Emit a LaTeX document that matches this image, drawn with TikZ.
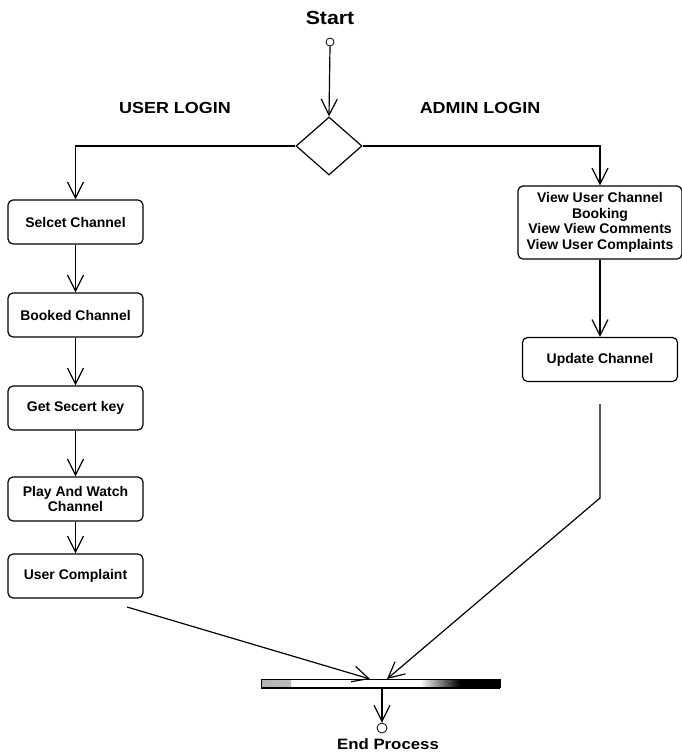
\documentclass[tikz,border=0pt]{standalone}
\usepackage{fontspec}
\setmainfont{Liberation Sans}
\usetikzlibrary{shapes.geometric,arrows.meta}
\newcommand\widetxt[1]{\scalebox{1.12}[1]{#1}}
\begin{document}
\begin{tikzpicture}[x=1pt,y=-1pt,
 act/.style={draw,line width=1.2pt,rounded corners=5pt,minimum height=44pt,align=center,
   font=\fontsize{14}{15.5}\selectfont\bfseries,inner sep=2pt},
 flow/.style={line width=1.2pt,-{Straight Barb[length=16pt,width=16pt,line width=1.2pt]}},
 lbl/.style={font=\fontsize{16}{18}\selectfont\bfseries,inner sep=0pt},
 endpt/.style={circle,draw,line width=0.8pt,inner sep=0pt,fill=white}]
\useasboundingbox (0,0) rectangle (681,753);

% start
\node[font=\fontsize{19}{21}\selectfont\bfseries,inner sep=0pt] (startlbl) at (330,18) {\widetxt{Start}};
\node[endpt,minimum size=8pt] (startc) at (330,42) {};
\node[draw,diamond,line width=1.2pt,minimum width=66pt,minimum height=58pt,inner sep=0pt] (dia) at (329,146) {};

\node[lbl] (userlbl) at (175,108) {\widetxt{USER LOGIN}};
\node[lbl] (adminlbl) at (480,108) {\widetxt{ADMIN LOGIN}};

% user branch
\node[act,minimum width=135pt] (sel)  at (75.5,222) {Selcet Channel};
\node[act,minimum width=135pt] (book) at (75.5,315) {Booked Channel};
\node[act,minimum width=135pt] (key)  at (75.5,408) {Get Secert key};
\node[act,minimum width=135pt] (play) at (75.5,499) {Play And Watch\\Channel};
\node[act,minimum width=135pt] (comp) at (75.5,576) {User Complaint};

% admin branch
\node[act,minimum width=164pt,minimum height=73pt,inner sep=1pt] (view) at (600,222.5)
  {View User Channel\\Booking\\View View Comments\\View User Complaints};
\node[act,minimum width=155pt] (upd) at (600,359.5) {Update Channel};

% join bar
\node[draw,line width=0.8pt,minimum width=239pt,minimum height=8pt,inner sep=0pt,fill=white,
  path picture={
     \shade[left color=gray!60,right color=white]
       (path picture bounding box.north west) rectangle ([xshift=30pt]path picture bounding box.south west);
     \shade[left color=white,right color=black]
       ([xshift=-80pt]path picture bounding box.north east) rectangle ([xshift=-40pt]path picture bounding box.south east);
     \fill[black]
       ([xshift=-40pt]path picture bounding box.north east) rectangle (path picture bounding box.south east);}]
  (bar) at (380.5,683) {};
\draw[line width=1.8pt] ([yshift=-0.5pt]bar.south west) -- ([yshift=-0.5pt]bar.south east);

\node[endpt,minimum size=10pt] (endc) at (382,728) {};
\node[font=\fontsize{15}{17}\selectfont\bfseries,inner sep=0pt] (endlbl) at (388,744) {\widetxt{End Process}};

% free-end coordinates
\coordinate (l1) at (127,607);
\coordinate (b1) at (370,679);
\coordinate (r1) at (600,404);
\coordinate (r2) at (600,498);
\coordinate (b2) at (387,679);
\coordinate (b3) at (382,687);

% connectors
\draw[flow] (startc.south) -- (dia.north);
\draw[flow] (dia.west) -| (sel.north);
\draw[flow] (dia.east) -| (view.north);
\draw[flow] (sel) -- (book);
\draw[flow] (book) -- (key);
\draw[flow] (key) -- (play);
\draw[flow] (play) -- (comp);
\draw[flow] (view) -- (upd);
\draw[flow] (l1) -- (b1);
\draw[flow] (r1) -- (r2) -- (b2);
\draw[flow] (b3) -- (endc.north);
\end{tikzpicture}
\end{document}
